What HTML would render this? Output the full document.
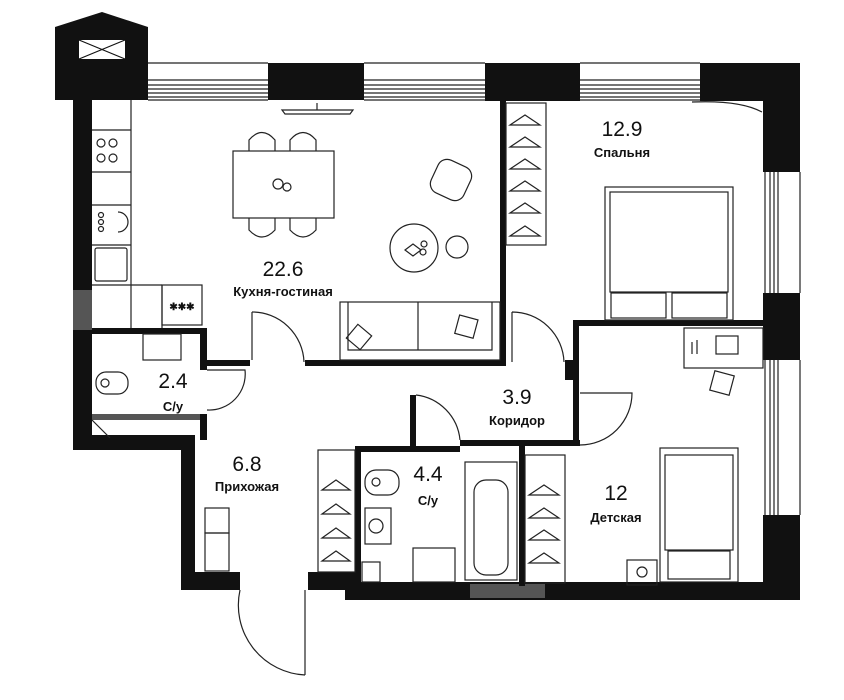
<!DOCTYPE html>
<html><head><meta charset="utf-8"><style>
html,body{margin:0;padding:0;background:#fff;}
svg{display:block}
text{font-family:"Liberation Sans",sans-serif;fill:#111;text-anchor:middle}
.n{font-size:21px}
.l{font-size:13px;font-weight:bold}
</style></head><body>
<svg width="844" height="700" viewBox="0 0 844 700" xmlns="http://www.w3.org/2000/svg">
<g fill="none" stroke="#222" stroke-width="1.3">
<!-- windows top -->
<g stroke-width="1.2">
<path d="M148 63H268M148 80H268M148 85H268M148 89H268M148 93H268M148 97H268M148 100H268"/>
<path d="M364 63H485M364 80H485M364 85H485M364 89H485M364 93H485M364 97H485M364 100H485"/>
<path d="M580 63H700M580 80H700M580 85H700M580 89H700M580 93H700M580 97H700M580 100H700"/>
<path d="M765 172V293M770 172V293M774 172V293M778 172V293M800 172V293"/>
<path d="M765 360V515M770 360V515M774 360V515M778 360V515M800 360V515"/>
</g>
</g>
<g fill="#111">
<!-- tower -->
<path d="M55 27L102 12L148 27V100H92V100H55Z"/>
<rect x="73" y="100" width="19" height="190"/>
<rect x="73" y="290" width="19" height="40" fill="#555"/>
<rect x="73" y="330" width="19" height="120"/>
<rect x="73" y="435" width="122" height="15"/>
<rect x="181" y="435" width="14" height="155"/>
<rect x="181" y="572" width="59" height="18"/>
<rect x="308" y="572" width="52" height="18"/>
<rect x="345" y="582" width="455" height="18"/>
<rect x="470" y="584" width="75" height="14" fill="#555"/>
<rect x="268" y="63" width="96" height="37"/>
<rect x="485" y="63" width="95" height="38"/>
<rect x="700" y="63" width="100" height="38"/>
<rect x="763" y="63" width="37" height="109"/>
<rect x="763" y="293" width="37" height="67"/>
<rect x="763" y="515" width="37" height="85"/>
<!-- interior walls -->
<rect x="500" y="100" width="6" height="266"/>
<rect x="200" y="360" width="50" height="6"/>
<rect x="305" y="360" width="200" height="6"/>
<rect x="565" y="360" width="10" height="20"/>
<rect x="573" y="320" width="6" height="120"/>
<rect x="573" y="320" width="192" height="6"/>
<rect x="460" y="440" width="120" height="6"/>
<rect x="410" y="395" width="6" height="55"/>
<rect x="355" y="446" width="105" height="6"/>
<rect x="355" y="446" width="6" height="140"/>
<rect x="519" y="446" width="6" height="140"/>
<rect x="92" y="328" width="115" height="6"/>
<rect x="200" y="328" width="7" height="42"/>
<rect x="92" y="414" width="115" height="6" fill="#555"/>
<rect x="200" y="414" width="7" height="26"/>
</g>
<!-- tower X box -->
<rect x="79" y="40" width="46" height="19" fill="#fff"/>
<path d="M79 40L125 59M125 40L79 59" stroke="#111" stroke-width="1.2"/>
<g fill="none" stroke="#222" stroke-width="1.2">
<!-- TV -->
<path d="M282 110H353L350 114H285Z M317 103V110"/>
<!-- kitchen column -->
<path d="M131 100V328M92 130H131M92 172H131M92 205H131M92 245H131M92 285H162M162 285V328M131 285V328"/>
<circle cx="101" cy="143" r="4"/><circle cx="113" cy="143" r="4"/><circle cx="101" cy="158" r="4"/><circle cx="113" cy="158" r="4"/>
<rect x="95" y="248" width="32" height="33" rx="2"/>
<circle cx="101" cy="215" r="2.5"/><circle cx="101" cy="222" r="2.5"/><circle cx="101" cy="229" r="2.5"/>
<path d="M118 212A8 8 0 0 1 118 232"/>
<rect x="162" y="285" width="40" height="40"/>
<!-- dining -->
<rect x="233" y="151" width="101" height="67"/>
<circle cx="278" cy="184" r="5"/><circle cx="287" cy="187" r="4"/>
<path d="M249 151V140Q262 125 275 140V151M290 151V140Q303 125 316 140V151M249 218V230Q262 244 275 230V218M290 218V230Q303 244 316 230V218"/>
<!-- armchair & round table -->
<rect x="433" y="162" width="36" height="36" rx="10" transform="rotate(25 451 180)"/>
<circle cx="414" cy="248" r="24"/><circle cx="457" cy="247" r="11"/>
<path d="M405 250l8-6 8 6-8 6z"/><circle cx="424" cy="244" r="3"/><circle cx="423" cy="252" r="3"/>
<!-- sofa -->
<rect x="340" y="302" width="160" height="58"/><path d="M348 302V350H492V302M418 302V350"/>
<rect x="350" y="328" width="18" height="18" transform="rotate(40 359 337)"/>
<rect x="457" y="317" width="19" height="19" transform="rotate(15 466 326)"/>
<!-- doors -->
<path d="M252 312V360M252 312A52 52 0 0 1 304 362"/>
<path d="M512 312V362M512 312A52 52 0 0 1 564 362"/>
<path d="M207 370H245A36 36 0 0 1 207 410"/>
<path d="M580 393H632A52 52 0 0 1 580 445"/>
<path d="M416 395A50 50 0 0 1 460 440"/>
<path d="M305 590V675M305 675A70 70 0 0 1 240 590"/>
<!-- bedroom wardrobe -->
<rect x="506" y="103" width="40" height="142"/>
<path d="M510 125l15-10 15 10zM510 147l15-10 15 10zM510 169l15-10 15 10zM510 191l15-10 15 10zM510 213l15-10 15 10zM510 236l15-10 15 10z"/>
<!-- bed -->
<rect x="605" y="187" width="128" height="133"/><rect x="610" y="192" width="118" height="100"/>
<rect x="611" y="293" width="55" height="25"/><rect x="672" y="293" width="55" height="25"/>
<path d="M692 102Q740 100 762 112"/>
<!-- desk -->
<rect x="684" y="328" width="79" height="40"/>
<rect x="716" y="336" width="22" height="18"/>
<path d="M692 342v12M697 340v14"/>
<rect x="712" y="373" width="20" height="20" transform="rotate(15 722 383)"/>
<!-- kids wardrobe -->
<rect x="525" y="455" width="40" height="128"/>
<path d="M529 495l15-10 15 10zM529 518l15-10 15 10zM529 540l15-10 15 10zM529 563l15-10 15 10z"/>
<!-- kids bed -->
<rect x="660" y="448" width="78" height="134"/><rect x="665" y="455" width="68" height="95"/><rect x="668" y="551" width="62" height="28"/>
<rect x="627" y="560" width="30" height="25"/><circle cx="642" cy="572" r="5"/>
<!-- hallway wardrobe -->
<rect x="318" y="450" width="37" height="122"/>
<path d="M322 490l14-10 14 10zM322 514l14-10 14 10zM322 538l14-10 14 10zM322 561l14-10 14 10z"/>
<rect x="205" y="508" width="24" height="25"/><rect x="205" y="533" width="24" height="38"/>
<!-- wc 2.4 -->
<rect x="143" y="334" width="38" height="26"/>
<rect x="96" y="372" width="32" height="22" rx="10"/><circle cx="105" cy="383" r="4"/>
<path d="M92 420L110 438"/>
<!-- 4.4 -->
<rect x="365" y="470" width="34" height="25" rx="11"/><circle cx="376" cy="482" r="4"/>
<rect x="365" y="508" width="26" height="36"/><circle cx="376" cy="526" r="7"/>
<rect x="413" y="548" width="42" height="34"/>
<rect x="362" y="562" width="18" height="20"/>
<rect x="465" y="462" width="52" height="118"/><rect x="474" y="480" width="34" height="95" rx="12"/>
</g>
<text class="n" x="283" y="276">22.6</text><text class="l" x="283" y="296">Кухня-гостиная</text>
<text class="n" x="622" y="136">12.9</text><text class="l" x="622" y="157">Спальня</text>
<text class="n" x="173" y="388">2.4</text><text class="l" x="173" y="411">С/у</text>
<text class="n" x="517" y="404">3.9</text><text class="l" x="517" y="425">Коридор</text>
<text class="n" x="247" y="471">6.8</text><text class="l" x="247" y="491">Прихожая</text>
<text class="n" x="428" y="481">4.4</text><text class="l" x="428" y="505">С/у</text>
<text class="n" x="616" y="500">12</text><text class="l" x="616" y="522">Детская</text>
<text style="font-size:10px;font-weight:bold" x="182" y="310">✱✱✱</text>
</svg>
</body></html>
